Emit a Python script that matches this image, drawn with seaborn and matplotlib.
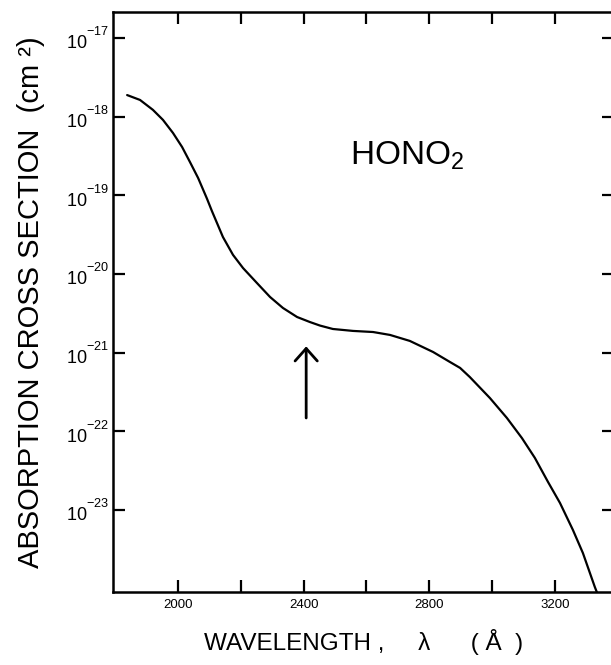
import numpy as np
import pandas as pd
import matplotlib
matplotlib.use('Agg')
import matplotlib.pyplot as plt
from matplotlib.ticker import FixedLocator, NullLocator, FuncFormatter
import seaborn as sns

# ---- data ----
wavelength = [1838, 1879, 1920, 1952, 1984, 2013, 2038, 2064, 2092, 2108,
              2143, 2175, 2207, 2251, 2293, 2334, 2379, 2420, 2452, 2493,
              2557, 2621, 2675, 2738, 2812, 2866, 2898, 2929, 2993, 3047,
              3095, 3136, 3178, 3216, 3257, 3289, 3327, 3336]
cross_section = [1.88e-18, 1.63e-18, 1.22e-18, 9.1e-19, 6.2e-19, 4.11e-19,
                 2.65e-19, 1.66e-19, 9.1e-20, 6.3e-20, 2.95e-20, 1.75e-20,
                 1.19e-20, 7.7e-21, 5.1e-21, 3.70e-21, 2.84e-21, 2.45e-21,
                 2.21e-21, 2.00e-21, 1.89e-21, 1.83e-21, 1.68e-21, 1.41e-21,
                 1.02e-21, 7.6e-22, 6.4e-22, 4.9e-22, 2.65e-22, 1.48e-22,
                 8.2e-23, 4.6e-23, 2.27e-23, 1.23e-23, 5.6e-24, 2.84e-24,
                 1.05e-24, 8.5e-25]
x_ticks = [2000, 2200, 2400, 2600, 2800, 3000, 3200]
x_ticklabels = {2000: "2000", 2400: "2400", 2800: "2800", 3200: "3200"}
y_exponents = [-17, -18, -19, -20, -21, -22, -23]
species_label = r"$\mathregular{HONO_2}$"
arrow_x = 2408
arrow_tip = 10 ** -20.92
arrow_tail = 10 ** -21.83

df = pd.DataFrame({"wavelength": wavelength, "sigma": cross_section})

# raise superscripts (as in the reference typography)
try:
    import matplotlib._mathtext as _mt
    _mt.FontConstantsBase.sup1 = 1.35
except Exception:
    pass

sns.set_style("ticks")
plt.rcParams["font.family"] = ["Liberation Sans", "DejaVu Sans"]
plt.rcParams["mathtext.fontset"] = "custom"
plt.rcParams["mathtext.rm"] = "Liberation Sans"
for k in ["text.color", "axes.labelcolor", "xtick.color", "ytick.color",
          "axes.edgecolor"]:
    plt.rcParams[k] = "black"

W, H = 611, 665
fig = plt.figure(figsize=(W / 100, H / 100), dpi=100)
left_px, right_px, top_px, bot_px = 113, 614, 12, 592
ax = fig.add_axes([left_px / W, (H - bot_px) / H,
                   (right_px - left_px) / W, (bot_px - top_px) / H])

sns.lineplot(data=df, x="wavelength", y="sigma", ax=ax, color="black",
             linewidth=1.6, sort=False)
ax.set_yscale("log")
ax.set_xlim(1793, 3388)
ax.set_ylim(10 ** -24.042, 10 ** -16.670)

ax.xaxis.set_major_locator(FixedLocator(x_ticks))
ax.xaxis.set_major_formatter(FuncFormatter(lambda v, p: x_ticklabels.get(int(round(v)), "")))
ax.xaxis.set_minor_locator(NullLocator())
ax.yaxis.set_major_locator(FixedLocator([10.0 ** e for e in y_exponents]))
ax.yaxis.set_major_formatter(FuncFormatter(
    lambda v, p: r"$\mathregular{10^{%d}}$" % int(round(np.log10(v)))))
ax.yaxis.set_minor_locator(NullLocator())

ax.tick_params(axis="both", which="major", direction="in", length=8.5,
               width=1.6, color="black", top=True, right=True)
ax.tick_params(axis="x", labelsize=9.5, pad=5)
ax.tick_params(axis="y", labelsize=13, pad=3)

for s in ax.spines.values():
    s.set_visible(True)
    s.set_linewidth(1.8)
    s.set_color("black")

ax.set_xlabel("WAVELENGTH ,     λ      ( Å  )", fontsize=17.5, va="center")
ax.xaxis.set_label_coords(0.5, (bot_px - 642) / (bot_px - top_px))
ax.set_ylabel("ABSORPTION CROSS SECTION  (cm ²)", fontsize=21, va="center")
ax.yaxis.set_label_coords((31 - left_px) / (right_px - left_px), 0.5)

ax.text(2548, 10 ** -18.5, species_label, fontsize=24, ha="left", va="center")

ax.annotate("", xy=(arrow_x, arrow_tip), xytext=(arrow_x, arrow_tail),
            arrowprops=dict(arrowstyle="->,head_length=0.45,head_width=0.4",
                            lw=2.0, color="black", mutation_scale=20,
                            shrinkA=0, shrinkB=0))

fig.savefig("out.png", dpi=100)
